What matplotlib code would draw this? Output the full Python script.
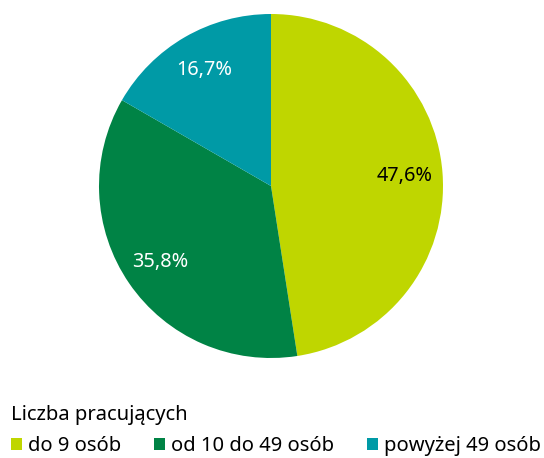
import matplotlib
matplotlib.use("Agg")
import matplotlib.pyplot as plt
from matplotlib.patches import Patch

plt.rcParams['font.family'] = ['Noto Sans', 'DejaVu Sans']

categories = ["do 9 osób", "od 10 do 49 osób", "powyżej 49 osób"]
values = [47.6, 35.8, 16.7]
colors = ["#bfd600", "#008345", "#009aa6"]
label_colors = ["#000000", "#ffffff", "#ffffff"]
legend_title = "Liczba pracujących"

fig = plt.figure(figsize=(5.44, 4.58), dpi=100)
ax = fig.add_axes([99/544, 1 - 358/458, 344/544, 344/458])

wedges, texts, autotexts = ax.pie(
    values, colors=colors, startangle=90, counterclock=False,
    autopct=lambda p: f"{p:.1f}%".replace(".", ","), pctdistance=0.78,
    wedgeprops=dict(linewidth=0), textprops=dict(fontsize=14.3))
for t, c in zip(autotexts, label_colors):
    t.set_color(c)
ax.set_xlim(-1, 1)
ax.set_ylim(-1, 1)
ax.set_aspect('equal')

handles = [Patch(facecolor=c, edgecolor='none') for c in colors]
leg = fig.legend(handles, categories, title=legend_title, ncol=3,
                 loc='upper left', bbox_to_anchor=(-5/544, 1 - 389/458),
                 frameon=False, fontsize=14.5, title_fontsize=14.5,
                 handlelength=0.55, handleheight=0.55, handletextpad=0.3,
                 columnspacing=1.62, borderpad=0.3, labelspacing=0.3)
leg._legend_box.align = "left"
leg._legend_box.sep = 8

fig.savefig("out.png", dpi=100)
